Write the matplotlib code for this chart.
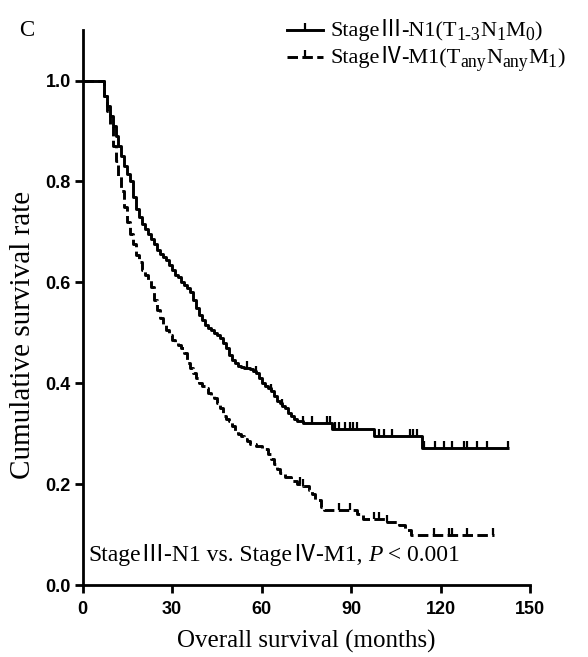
import matplotlib
matplotlib.use("Agg")
import matplotlib.pyplot as plt
import numpy as np
from matplotlib.transforms import IdentityTransform

# ---------------- data ----------------
solid_t = [0, 7, 8, 9, 10, 11, 12, 13, 14, 15, 16, 17, 18, 19, 20, 21, 22, 23, 24, 25,
           26, 27, 28, 29, 30, 31, 32, 33, 34, 35, 36, 37, 38, 39, 40, 41, 42, 43, 44, 45,
           46, 47, 48, 49, 50, 51, 52, 53, 54, 56, 57, 58, 59, 60, 61, 62, 63, 64, 65,
           66, 67, 68, 69, 70, 71, 72, 74, 83.5, 97.8, 113.7]
solid_s = [1.0, 0.97, 0.95, 0.93, 0.91, 0.89, 0.87, 0.85, 0.83, 0.815, 0.80, 0.77, 0.745,
           0.73, 0.715, 0.705, 0.695, 0.685, 0.675, 0.665, 0.657, 0.65, 0.645, 0.635, 0.625,
           0.615, 0.61, 0.60, 0.595, 0.588, 0.58, 0.565, 0.55, 0.535, 0.525, 0.515, 0.51,
           0.505, 0.50, 0.495, 0.49, 0.48, 0.47, 0.455, 0.445, 0.44, 0.435, 0.432, 0.43,
           0.428, 0.425, 0.42, 0.41, 0.40, 0.395, 0.39, 0.385, 0.375, 0.365, 0.36, 0.355,
           0.35, 0.34, 0.335, 0.33, 0.325, 0.321, 0.31, 0.295, 0.271]
solid_end = 143
solid_cens = [55, 58, 63, 67, 74, 76.8, 81.9, 83, 84.7, 85.8, 88, 89.7, 90.8, 91.9, 99.2,
              100.9, 103.7, 109.8, 110.9, 112.1, 114.3, 118.2, 121, 123.8, 127.7, 128.9,
              132.2, 135.6, 142.5]

dash_t = [0, 7, 8, 9, 10, 11, 12, 13, 14, 15, 16, 17, 18, 19, 20, 21, 22, 23, 24, 25,
          26, 27, 28, 29, 30, 31, 32, 33, 34, 35, 36, 37, 38, 39, 40, 41, 42, 43, 44, 45,
          46, 47, 48, 49, 50, 51, 52, 53, 54, 55, 56, 58, 60, 62, 63, 64, 65, 66, 68, 70,
          72, 74, 76, 77, 78, 80, 81, 92, 94, 102, 106, 108, 110]
dash_s = [1.0, 0.97, 0.94, 0.91, 0.87, 0.84, 0.81, 0.78, 0.75, 0.72, 0.695, 0.675, 0.655,
          0.64, 0.625, 0.615, 0.605, 0.59, 0.565, 0.545, 0.53, 0.515, 0.505, 0.495, 0.485,
          0.48, 0.475, 0.47, 0.46, 0.44, 0.43, 0.42, 0.41, 0.40, 0.395, 0.39, 0.38, 0.375,
          0.37, 0.36, 0.35, 0.335, 0.33, 0.325, 0.315, 0.305, 0.30, 0.295, 0.29, 0.285,
          0.28, 0.275, 0.27, 0.26, 0.25, 0.24, 0.23, 0.222, 0.215, 0.207, 0.20, 0.197,
          0.188, 0.18, 0.168, 0.155, 0.148, 0.14, 0.13, 0.125, 0.118, 0.11, 0.10]
dash_end = 138
dash_cens = [73, 74, 85.8, 89.7, 97.8, 99.5, 102, 117.7, 122.8, 124, 128.9, 137.7]

x_ticks = [0, 30, 60, 90, 120, 150]
y_ticks = [0.0, 0.2, 0.4, 0.6, 0.8, 1.0]
y_ticklabels = ["0.0", "0.2", "0.4", "0.6", "0.8", "1.0"]

legend_1 = [("Stage", "n"), ("Ⅲ", "n"), ("-N1(T", "n"), ("1-3", "s"), ("N", "n"), ("1", "s"),
            ("M", "n"), ("0", "s"), (")", "n")]
legend_2 = [("Stage", "n"), ("Ⅳ", "n"), ("-M1(T", "n"), ("any", "s"), ("N", "n"), ("any", "s"),
            ("M", "n"), ("1", "s"), (")", "n")]
ptext = [("Stage", "n"), ("Ⅲ", "n"), ("-N1 vs. Stage", "n"), ("Ⅳ", "n"), ("-M1, ", "n"),
         ("P", "i"), (" < 0.001", "n")]

SERIF = ["Liberation Serif", "Noto Sans CJK SC", "DejaVu Serif"]
DASH = (0, (3.6, 1.5))

W, H = 588, 657
fig = plt.figure(figsize=(W / 100, H / 100), dpi=100)

def px2fx(x):
    return x / W

def py2fy(y):
    return 1 - y / H

x0_px, x150_px = 82.7, 530.0
y0_px, y1_px = 585.0, 80.5
ytop = 1.1
ax = fig.add_axes([px2fx(x0_px), py2fy(y0_px), (x150_px - x0_px) / W,
                   (y0_px - y1_px) * ytop / H])
ax.set_xlim(0, 150)
ax.set_ylim(0, ytop)

def step_val(ts, ss, t):
    idx = np.searchsorted(np.asarray(ts), t, side="right") - 1
    return np.asarray(ss)[idx]

LW = 2.1
# solid
st = list(solid_t) + [solid_end]
ss = list(solid_s) + [solid_s[-1]]
ax.step(st, ss, where="post", color="black", lw=LW, solid_capstyle="butt", clip_on=False)
ax.plot(solid_cens, step_val(solid_t, solid_s, solid_cens), ls="none", marker=2,
        ms=5, mew=1.6, color="black", clip_on=False)

# dashed
dt = list(dash_t) + [dash_end]
ds = list(dash_s) + [dash_s[-1]]
ax.step(dt, ds, where="post", color="black", lw=LW, ls=DASH, clip_on=False)
ax.plot(dash_cens, step_val(dash_t, dash_s, dash_cens), ls="none", marker=2,
        ms=5, mew=1.6, color="black", clip_on=False)

# axes style
for s in ["top", "right"]:
    ax.spines[s].set_visible(False)
for s in ["left", "bottom"]:
    ax.spines[s].set_linewidth(2.0)
ax.set_xticks(x_ticks)
ax.set_yticks(y_ticks)
ax.set_yticklabels(y_ticklabels)
ax.tick_params(direction="out", length=5.5, width=2.0)
ax.tick_params(axis="x", pad=6)
ax.tick_params(axis="y", pad=3)
for lab in ax.get_xticklabels() + ax.get_yticklabels():
    lab.set_fontfamily("Liberation Sans")
    lab.set_fontweight("bold")
    lab.set_fontsize(13)

# axis labels
fig.text(px2fx(306), py2fy(641), "Overall survival (months)", family=SERIF, fontsize=18,
         ha="center", va="center")
fig.text(px2fx(23), py2fy(335), "Cumulative survival rate", family=SERIF, fontsize=21,
         ha="center", va="center", rotation=90)

fig.text(px2fx(27), py2fy(31), "C", family=SERIF, fontsize=16.5, ha="center", va="center")

fig.canvas.draw()
renderer = fig.canvas.get_renderer()

def rich(x, y, pieces, size, sub=0.72):
    """x, y: pixel coords from top-left; y is baseline."""
    cx = x
    by = H - y
    for txt, kind in pieces:
        if kind == "s":
            fs = size * sub
            yy = by - size * 0.2 * 100 / 72
            style = "normal"
        elif kind == "i":
            fs = size
            yy = by
            style = "italic"
        else:
            fs = size
            yy = by
            style = "normal"
        t = fig.text(cx, yy, txt, transform=IdentityTransform(), family=SERIF,
                     fontsize=fs, style=style, va="baseline", ha="left")
        bb = t.get_window_extent(renderer)
        cx += bb.width
    return cx

# legend
leg_x0, leg_x1 = 287, 323
for pieces, y, ls in [(legend_1, 30, "-"), (legend_2, 57, DASH)]:
    yl = py2fy(y)
    fig.add_artist(plt.Line2D([px2fx(leg_x0), px2fx(leg_x1)], [yl, yl], color="black",
                              lw=LW, ls=ls, transform=fig.transFigure))
    fig.add_artist(plt.Line2D([px2fx((leg_x0 + leg_x1) / 2)], [yl], color="black",
                              marker=2, ms=5, mew=1.6, transform=fig.transFigure))
    rich(330, y + 6, pieces, 16, sub=0.8)

rich(88, 561, ptext, 17)

fig.savefig("out.png", dpi=100)
